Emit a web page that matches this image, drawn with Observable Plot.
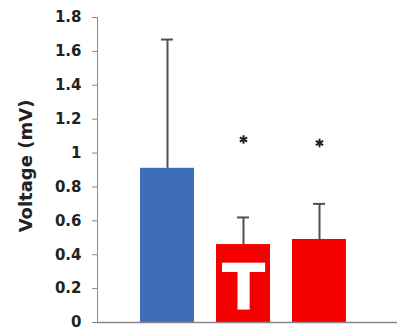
<!DOCTYPE html>
<html>
<head>
<meta charset="utf-8">
<script src="https://cdn.jsdelivr.net/npm/d3@7"></script>
<script src="https://cdn.jsdelivr.net/npm/@observablehq/plot@0.6"></script>
<style>
  html, body { margin: 0; padding: 0; background: #fff; }
  #chart { width: 397px; height: 331px; overflow: hidden; }
</style>
</head>
<body>
<div id="chart"></div>
<script>
// Data
const categories = ["Control", "T", "Group 3"];
const means      = [0.91, 0.46, 0.49];
const errors     = [0.76, 0.16, 0.21];
const colors     = ["#3E6EB8", "#F50000", "#F50000"];
const starY      = [null, 1.08, 1.06];   // significance asterisks
const barLabels  = ["", "T", ""];
const yTicks     = [0, 0.2, 0.4, 0.6, 0.8, 1, 1.2, 1.4, 1.6, 1.8];
const yLabel     = "Voltage (mV)";

const rows = categories.map((c, i) => ({
  cat: c, mean: means[i], err: errors[i], top: means[i] + errors[i],
  color: colors[i], star: starY[i], label: barLabels[i]
}));

const chart = Plot.plot({
  width: 397,
  height: 331,
  marginTop: 17,
  marginBottom: 9,
  marginLeft: 97,
  marginRight: 0,
  style: { fontFamily: "DejaVu Sans", fontWeight: "bold", color: "#222", background: "#fff" },
  x: { type: "band", domain: categories, range: [117, 369], padding: 0.294, axis: null },
  y: { domain: [0, 1.8], axis: null },
  marks: [
    Plot.barY(rows, { x: "cat", y: "mean", fill: "color" }),
    Plot.ruleX(rows, { x: "cat", y1: "mean", y2: "top", stroke: "#505050", strokeWidth: 2 }),
    Plot.tickY(rows, { x: "cat", y: "top", stroke: "#505050", strokeWidth: 2, insetLeft: 21, insetRight: 21 }),
    Plot.dot(rows.filter(d => d.star != null), { x: "cat", y: "star", symbol: "asterisk", r: 4, stroke: "#222", strokeWidth: 2 }),
    Plot.text(rows.filter(d => d.label), { x: "cat", y: 0.071, text: "label", fill: "#fff", fontSize: 64, fontWeight: "bold", fontFamily: "DejaVu Sans", lineAnchor: "bottom", textAnchor: "middle" }),
    Plot.axisY({ ticks: yTicks, tickFormat: d => String(d), tickSize: 5, tickPadding: 11, stroke: "#888", fill: "#222", fontSize: 15, label: null }),
    Plot.frame({ anchor: "left", stroke: "#888" }),
    Plot.ruleY([0], { stroke: "#888", strokeWidth: 1.5 }),
    Plot.text([yLabel], { frameAnchor: "left", textAnchor: "middle", dx: -71, dy: -4, rotate: -90, fontSize: 18, fontWeight: "bold", fill: "#222" })
  ]
});
document.getElementById("chart").append(chart);
</script>
</body>
</html>
